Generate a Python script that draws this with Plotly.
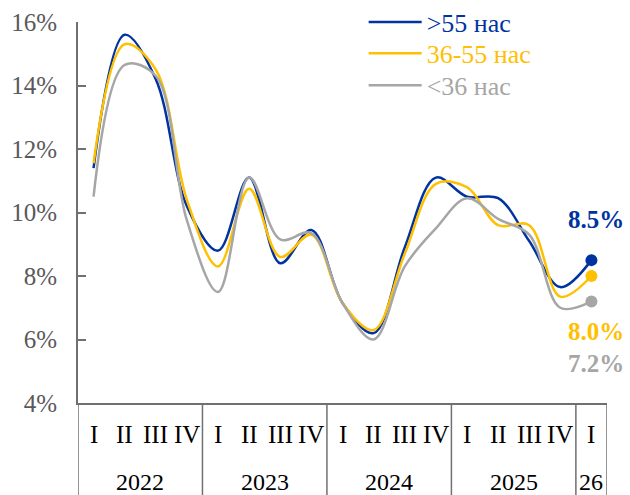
import plotly.graph_objects as go

# ---- data ----
quarters = ["I", "II", "III", "IV"] * 4 + ["I"]
years = ["2022", "2023", "2024", "2025", "26"]
year_sizes = [4, 4, 4, 4, 1]
series_names = [">55 нас", "36-55 нас", "<36 нас"]
over55 = [11.4, 15.6, 14.2, 10.2, 8.8, 11.1, 8.4, 9.45, 7.15, 6.2, 8.9, 11.1, 10.5, 10.45, 9.1, 7.65, 8.5]
age36_55 = [11.55, 15.3, 14.5, 10.4, 8.3, 10.75, 8.6, 9.3, 7.15, 6.3, 8.7, 10.9, 10.8, 9.6, 9.6, 7.35, 8.0]
under36 = [10.5, 14.65, 14.3, 9.75, 7.5, 11.1, 9.15, 9.35, 7.15, 6.0, 8.3, 9.5, 10.45, 9.8, 9.3, 7.0, 7.2]
end_labels = ["8.5%", "8.0%", "7.2%"]

colors = ["#0033A0", "#FFC000", "#A6A6A6"]
label_shift = [41, -55, -62]
legend_rows = [1.0, 0.918, 0.834]
FONT = "Liberation Serif"

x = list(range(len(quarters)))
series = [over55, age36_55, under36]
legend_ids = ["legend", "legend2", "legend3"]

fig = go.Figure()
for name, vals, col, lg in zip(series_names, series, colors, legend_ids):
    fig.add_trace(go.Scatter(
        x=x, y=vals, mode="lines", name=name, legend=lg,
        line=dict(color=col, width=2.5, shape="spline", smoothing=1.0),
        cliponaxis=False,
    ))
    # end-point marker (last quarter)
    fig.add_trace(go.Scatter(
        x=[x[-1]], y=[vals[-1]], mode="markers", showlegend=False,
        marker=dict(size=12, color=col), cliponaxis=False,
    ))

annotations = []
for vals, col, lab, sh in zip(series, colors, end_labels, label_shift):
    annotations.append(dict(
        x=x[-1], y=vals[-1], xref="x", yref="y", text=f"<b>{lab}</b>",
        showarrow=False, yshift=sh, xshift=5,
        font=dict(family=FONT, size=25, color=col),
    ))

# quarter labels
for xi, q in zip(x, quarters):
    annotations.append(dict(
        x=xi, y=-0.082, xref="x", yref="paper", text=q, showarrow=False,
        font=dict(family=FONT, size=25, color="#000000"), yanchor="middle",
    ))

# year labels + separators
shapes = []
start = -0.5
bounds = [start]
for yr, n in zip(years, year_sizes):
    end = start + n
    annotations.append(dict(
        x=(start + end) / 2, y=-0.207, xref="x", yref="paper", text=yr,
        showarrow=False, font=dict(family=FONT, size=24, color="#000000"),
        yanchor="middle",
    ))
    bounds.append(end)
    start = end
for b in bounds:
    shapes.append(dict(type="line", xref="x", yref="paper", x0=b, x1=b,
                       y0=0, y1=-0.26, line=dict(color="#707070", width=1.5)))

legend_layout = {}
for lg, col, yrow in zip(legend_ids, colors, legend_rows):
    legend_layout[lg] = dict(
        x=0.54, y=yrow, xanchor="left", yanchor="middle",
        font=dict(family=FONT, size=26, color=col),
        bgcolor="rgba(0,0,0,0)", itemwidth=53,
    )

fig.update_layout(
    width=630, height=495,
    margin=dict(l=78, r=23, t=22, b=92, autoexpand=False),
    paper_bgcolor="white", plot_bgcolor="white",
    font=dict(family=FONT),
    showlegend=True,
    annotations=annotations,
    shapes=shapes,
    **legend_layout,
)
fig.update_xaxes(range=[-0.5, len(quarters) - 0.5], showticklabels=False,
                 showgrid=False, zeroline=False, showline=True,
                 linecolor="#707070", linewidth=2, ticks="")
fig.update_yaxes(range=[4, 16], dtick=2, ticksuffix="%", showgrid=False,
                 zeroline=False, showline=True, linecolor="#707070", linewidth=2,
                 ticks="inside", ticklen=8, tickwidth=2, tickcolor="#707070",
                 tickfont=dict(family=FONT, size=25, color="#595959"),
                 ticklabelstandoff=14)

fig.write_html("out.html")
